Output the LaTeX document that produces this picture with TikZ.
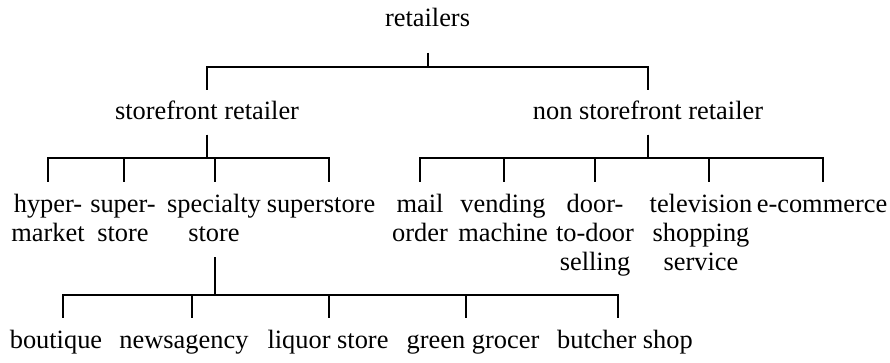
\documentclass[tikz,border=0pt]{standalone}
\usepackage{fontspec}
\setmainfont{Liberation Serif}
\newfontfamily\timesfont{Liberation Serif}
\newcommand\mlines[1]{\begin{tabular}[t]{@{}c@{}}#1\end{tabular}}
\begin{document}
\begin{tikzpicture}[x=1pt,y=-1pt,
  lbl/.style={anchor=base,inner sep=0pt,font=\timesfont\fontsize{26.4}{28.6}\selectfont},
  conn/.style={draw=black,line width=1.8pt}]
\useasboundingbox (0,0) rectangle (890,363);
% texts
\node[lbl] (retailers) at (427.5,27) {retailers};
\node[lbl] (store) at (207,120) {storefront retailer};
\node[lbl] (nonstore) at (648,120) {non storefront retailer};
\node[lbl] (hyper) at (48,213) {\mlines{hyper-\\market}};
\node[lbl] (super) at (123,213) {\mlines{super-\\store}};
\node[lbl] (special) at (214,213) {\mlines{specialty\\store}};
\node[lbl] (superstore) at (321,213) {superstore};
\node[lbl] (mail) at (420,213) {\mlines{mail\\order}};
\node[lbl] (vending) at (503,213) {\mlines{vending\\machine}};
\node[lbl] (door) at (595,213) {\mlines{door-\\to-door\\selling}};
\node[lbl] (tv) at (701,213) {\mlines{television\\shopping\\service}};
\node[lbl] (ecom) at (822,213) {e-commerce};
\node[lbl] (boutique) at (56,348) {boutique};
\node[lbl] (news) at (184,348) {newsagency};
\node[lbl] (liquor) at (328,348) {liquor store};
\node[lbl] (green) at (473,348) {green grocer};
\node[lbl] (butcher) at (625,348) {butcher shop};
% connector end points
\coordinate (retailers-b) at (428,53);
\coordinate (store-t) at (207,90);
\coordinate (nonstore-t) at (648,90);
\coordinate (store-b) at (207,135);
\coordinate (nonstore-b) at (648,135);
\coordinate (hyper-t) at (48,182);
\coordinate (super-t) at (124,182);
\coordinate (special-t) at (215,182);
\coordinate (superstore-t) at (329,182);
\coordinate (mail-t) at (420,182);
\coordinate (vending-t) at (504,182);
\coordinate (door-t) at (595,182);
\coordinate (tv-t) at (709,182);
\coordinate (ecom-t) at (823,182);
\coordinate (special-b) at (215,257);
\coordinate (boutique-t) at (63,318);
\coordinate (news-t) at (192,318);
\coordinate (liquor-t) at (329,318);
\coordinate (green-t) at (466,318);
\coordinate (butcher-t) at (618,318);
% connectors
\foreach \c in {store-t,nonstore-t}
  \draw[conn] (retailers-b) -- ++(0,14) -| (\c);
\foreach \c in {hyper-t,super-t,special-t,superstore-t}
  \draw[conn] (store-b) -- ++(0,23) -| (\c);
\foreach \c in {mail-t,vending-t,door-t,tv-t,ecom-t}
  \draw[conn] (nonstore-b) -- ++(0,23) -| (\c);
\foreach \c in {boutique-t,news-t,liquor-t,green-t,butcher-t}
  \draw[conn] (special-b) -- ++(0,38) -| (\c);
\end{tikzpicture}
\end{document}
